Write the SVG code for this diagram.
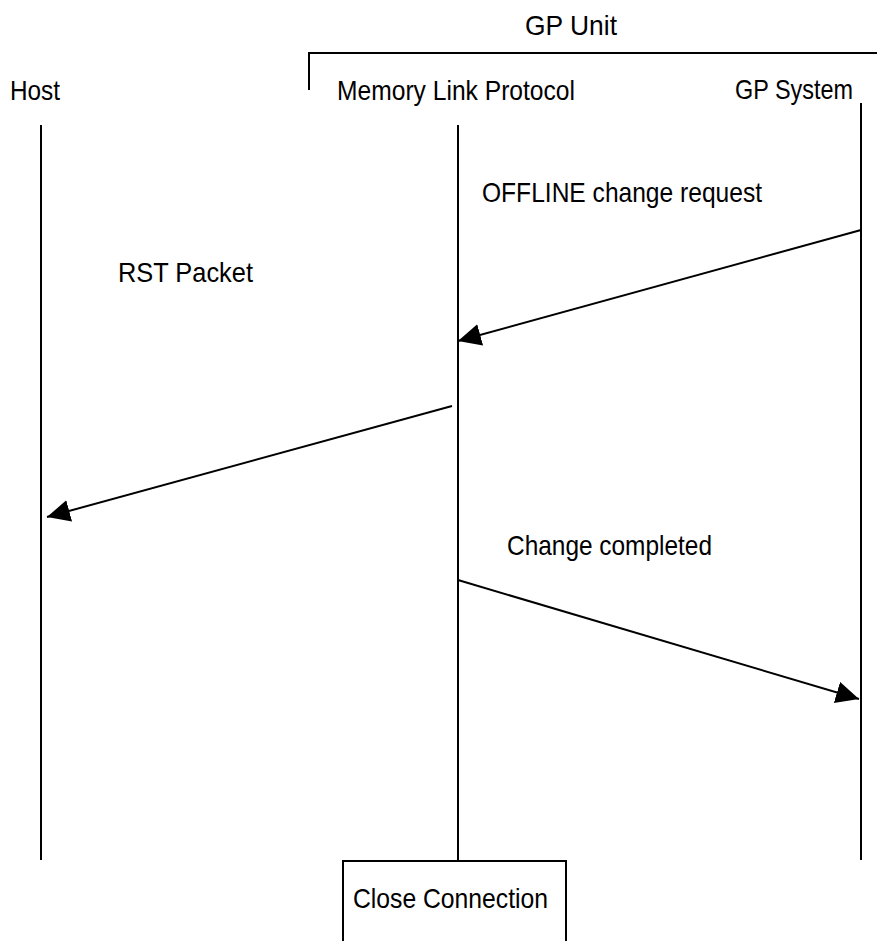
<svg xmlns="http://www.w3.org/2000/svg" width="877" height="941" viewBox="0 0 877 941">
<style>
text{font-family:"Liberation Sans",Arial,sans-serif;font-size:28.5px;fill:#000}
.l{stroke:#000;stroke-width:2;fill:none}
</style>
<defs>
<marker id="ah" markerWidth="26" markerHeight="24" refX="23" refY="11" orient="auto" markerUnits="userSpaceOnUse">
<path d="M0,0 L23,11 L0,22 Z" fill="#000"/>
</marker>
</defs>
<rect width="877" height="941" fill="#fff"/>
<g id="gp-unit">
<text x="525" y="35" textLength="92" lengthAdjust="spacingAndGlyphs">GP Unit</text>
<path class="l" d="M309,90 V53 H877"/>
</g>
<g id="host">
<text x="10" y="100" textLength="50" lengthAdjust="spacingAndGlyphs">Host</text>
<line class="l" x1="41" y1="125" x2="41" y2="860"/>
</g>
<g id="mlp">
<text x="337" y="100" textLength="238" lengthAdjust="spacingAndGlyphs">Memory Link Protocol</text>
<line class="l" x1="458" y1="125" x2="458" y2="861"/>
</g>
<g id="gp-system">
<text x="735" y="99" textLength="118" lengthAdjust="spacingAndGlyphs">GP System</text>
<line class="l" x1="861" y1="103" x2="861" y2="860"/>
</g>
<g id="close">
<rect class="l" x="343" y="861" width="223" height="90"/>
<text x="353" y="908" textLength="195" lengthAdjust="spacingAndGlyphs">Close Connection</text>
</g>
<g id="connectors">
<line class="l" x1="861" y1="230" x2="458" y2="341" marker-end="url(#ah)"/>
<line class="l" x1="452" y1="406" x2="47" y2="517" marker-end="url(#ah)"/>
<line class="l" x1="458" y1="580" x2="859" y2="699" marker-end="url(#ah)"/>
<text x="482" y="202" textLength="280" lengthAdjust="spacingAndGlyphs">OFFLINE change request</text>
<text x="118" y="282" textLength="135" lengthAdjust="spacingAndGlyphs">RST Packet</text>
<text x="507" y="555" textLength="205" lengthAdjust="spacingAndGlyphs">Change completed</text>
</g>
</svg>
